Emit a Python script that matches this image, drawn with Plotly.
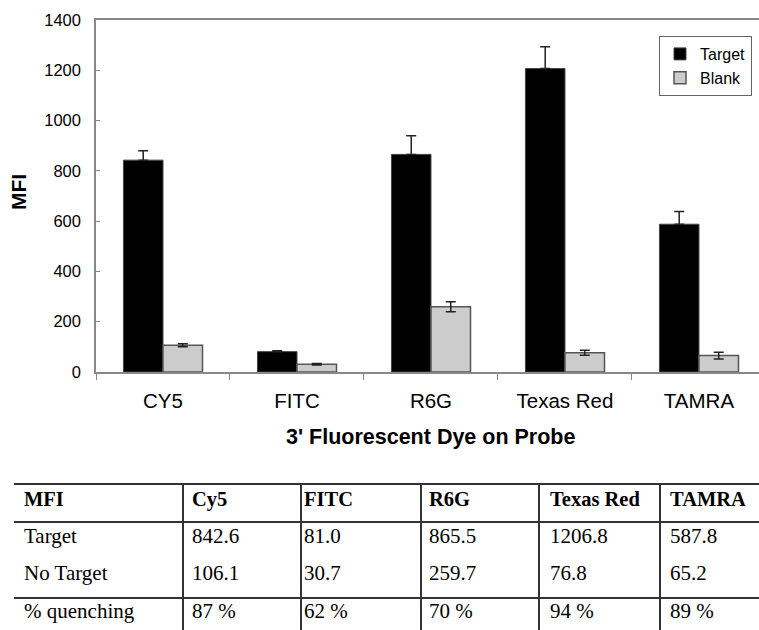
import plotly.graph_objects as go

# Probe dyes (axis labels) and their spelling in the summary table
dyes = ["CY5", "FITC", "R6G", "Texas Red", "TAMRA"]
table_dyes = ["Cy5", "FITC", "R6G", "Texas Red", "TAMRA"]

# Mean fluorescence intensity with and without target
target = [842.6, 81.0, 865.5, 1206.8, 587.8]
blank = [106.1, 30.7, 259.7, 76.8, 65.2]

# Error bar half-lengths
target_err = [37, 4, 74, 87, 51]
blank_err = [6, 3, 20, 10, 13]

# Percent quenching row of the table
quenching = [87, 62, 70, 94, 89]

y_ticks = [0, 200, 400, 600, 800, 1000, 1200, 1400]

W, H = 759, 630
SANS = "Liberation Sans, Arial, sans-serif"
SERIF = "Liberation Serif, Times New Roman, serif"


def px(x):
    return x / W


def py(y):
    return 1 - y / H


fig = go.Figure()
fig.add_bar(
    x=dyes, y=target, name="Target",
    marker=dict(color="black", line=dict(color="#444444", width=1)),
    # upper whisker only; the lower half sits inside the black bar
    error_y=dict(type="data", symmetric=False, array=target_err,
                 arrayminus=[0] * len(target_err),
                 color="#222222", thickness=1.5, width=5),
)
fig.add_bar(
    x=dyes, y=blank, name="Blank",
    marker=dict(color="#cccccc", line=dict(color="#555555", width=1.5)),
    error_y=dict(type="data", array=blank_err, color="#222222", thickness=1.5, width=5),
)

fig.update_layout(
    width=W, height=H,
    margin=dict(l=0, r=0, t=0, b=0),
    paper_bgcolor="white", plot_bgcolor="white",
    barmode="group", bargap=0.41, bargroupgap=0,
    font=dict(family=SANS, color="black"),
    showlegend=True,
    legend=dict(
        x=px(752), y=py(36), xanchor="right", yanchor="top",
        bordercolor="#666666", borderwidth=1, bgcolor="white",
        font=dict(family=SANS, size=16, color="black"),
        tracegroupgap=0,
    ),
    xaxis=dict(
        domain=[px(96), 1], range=[-0.5, 4.448],
        showline=True, linecolor="#888888", linewidth=1.5, mirror=True,
        ticks="outside", tickson="boundaries", ticklen=6, tickcolor="#888888",
        tickfont=dict(family=SANS, size=20.5, color="black"),
        ticklabelstandoff=10,
        showgrid=False, automargin=False,
    ),
    yaxis=dict(
        domain=[py(372), py(20)], range=[0, 1400],
        tickvals=y_ticks,
        showline=True, linecolor="#888888", linewidth=1.5,
        ticks="inside", ticklen=4, tickcolor="#888888",
        tickfont=dict(family=SANS, size=16.5, color="black"),
        ticklabelstandoff=10,
        showgrid=False, zeroline=False, automargin=False,
    ),
)

annotations = [
    dict(text="<b>MFI</b>", x=px(18), y=py(192), textangle=-90,
         font=dict(family=SANS, size=21, color="black")),
    dict(text="<b>3' Fluorescent Dye on Probe</b>", x=px(431), y=py(437),
         font=dict(family=SANS, size=21.5, color="black")),
]

# Summary table drawn below the chart
col_x = [22, 190, 302, 427, 548, 668]
row_y = [499, 536, 573, 611]
header = ["MFI"] + table_dyes
rows = [
    ["Target"] + [f"{v:.1f}" for v in target],
    ["No Target"] + [f"{v:.1f}" for v in blank],
    ["% quenching"] + [f"{q} %" for q in quenching],
]

for x, t in zip(col_x, header):
    annotations.append(dict(text=f"<b>{t}</b>", x=px(x), y=py(row_y[0]), xanchor="left",
                            font=dict(family=SERIF, size=20.5, color="black")))
for r, row in enumerate(rows):
    for x, t in zip(col_x, row):
        annotations.append(dict(text=t, x=px(x), y=py(row_y[r + 1]), xanchor="left",
                                font=dict(family=SERIF, size=21, color="black")))

for a in annotations:
    a.update(xref="paper", yref="paper", showarrow=False, yanchor="middle")
    a.setdefault("xanchor", "center")

shapes = []
for yl in [484, 522, 598]:
    shapes.append(dict(type="line", xref="paper", yref="paper",
                       x0=px(14), x1=1, y0=py(yl), y1=py(yl),
                       line=dict(color="#333333", width=2)))
for xl in [183, 301, 421, 539, 660]:
    shapes.append(dict(type="line", xref="paper", yref="paper",
                       x0=px(xl), x1=px(xl), y0=py(484), y1=0,
                       line=dict(color="#333333", width=2)))

fig.update_layout(annotations=annotations, shapes=shapes)

fig.write_html("out.html")
